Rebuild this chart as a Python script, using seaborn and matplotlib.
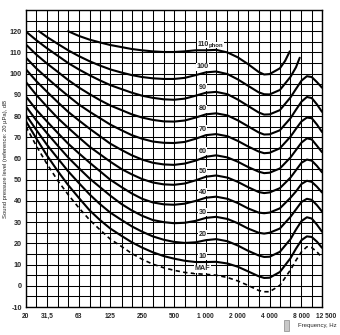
import numpy as np
import pandas as pd
import matplotlib
matplotlib.use("Agg")
import matplotlib.pyplot as plt
import seaborn as sns
from matplotlib.patches import Rectangle

# ---- data ----
freq = [20, 25, 31.5, 40, 50, 63, 80, 100, 125, 160, 200, 250, 315, 400, 500,
        630, 800, 1000, 1250, 1600, 2000, 2500, 3150, 3550, 4000, 5000, 6300,
        7100, 8000, 9000, 10000, 11200, 12500]

maf = [75.0, 66.0, 57.5, 49.5, 43.0, 36.8, 31.0, 26.4, 22.0, 18.5, 15.2, 12.5,
       10.2, 8.5, 7.3, 6.3, 5.7, 5.4, 5.0, 3.9, 2.3, 0.2, -2.2, -2.8, -2.8, 0.2,
       7.5, 12.0, 16.0, 18.4, 18.0, 16.0, 13.2]
phon10 = [77.5, 69.5, 61.5, 54.0, 47.5, 41.5, 35.5, 31.0, 27.0, 23.5, 20.5, 18.0,
          15.8, 14.0, 12.8, 11.8, 11.2, 11.2, 11.3, 10.5, 9.0, 6.8, 4.5, 3.7, 3.8,
          6.5, 13.0, 17.5, 21.5, 23.3, 23.0, 20.8, 17.9]
phon20 = [80.5, 73.5, 66.5, 60.0, 54.0, 48.5, 43.0, 38.5, 34.5, 31.0, 28.0, 25.5,
          23.3, 21.7, 20.7, 20.2, 20.5, 21.5, 22.0, 21.0, 19.0, 16.5, 14.3, 13.6,
          13.7, 16.0, 22.0, 26.5, 30.5, 32.3, 31.7, 28.8, 25.5]
phon30 = [84.5, 78.0, 72.0, 66.0, 60.5, 55.5, 50.5, 46.5, 42.5, 38.5, 35.5, 33.0,
          31.0, 30.0, 29.5, 29.7, 30.6, 32.0, 32.5, 31.5, 29.5, 27.0, 25.0, 24.6,
          25.0, 27.0, 32.5, 36.0, 39.5, 41.0, 40.5, 38.0, 35.0]
phon40 = [89.2, 83.0, 77.5, 72.0, 67.0, 62.5, 58.0, 54.0, 50.0, 46.5, 43.5, 41.0,
          39.3, 38.4, 38.2, 38.7, 40.0, 41.5, 42.0, 41.0, 39.0, 36.5, 34.5, 34.2,
          34.5, 36.5, 41.5, 44.5, 48.0, 49.5, 49.0, 46.7, 44.0]
phon50 = [96.0, 90.0, 84.5, 79.0, 74.5, 70.0, 65.5, 62.0, 58.5, 55.0, 52.5, 50.3,
          48.7, 47.8, 47.6, 48.2, 49.7, 51.4, 52.0, 51.0, 49.0, 46.5, 44.2, 43.7,
          44.0, 46.0, 51.0, 54.5, 58.0, 59.5, 59.0, 56.5, 53.5]
phon60 = [102.0, 96.5, 91.5, 86.5, 82.0, 78.0, 74.0, 70.5, 67.0, 64.0, 61.5, 59.5,
          58.0, 57.2, 57.0, 57.6, 59.0, 60.8, 61.5, 60.5, 58.5, 56.0, 53.8, 53.1,
          53.3, 55.3, 60.5, 64.0, 67.5, 69.5, 69.0, 66.0, 63.0]
phon70 = [107.5, 102.5, 98.0, 93.5, 89.5, 85.5, 82.0, 79.0, 76.0, 73.3, 71.0, 69.3,
          68.0, 67.4, 67.3, 67.8, 69.3, 71.0, 71.5, 70.5, 68.3, 65.7, 63.3, 62.5,
          62.7, 64.8, 70.3, 74.0, 77.5, 79.3, 79.0, 76.0, 72.5]
phon80 = [113.7, 109.0, 104.8, 100.8, 97.0, 93.5, 90.3, 87.5, 85.0, 82.8, 80.8,
          79.3, 78.2, 77.5, 77.4, 77.9, 79.3, 80.8, 81.3, 80.3, 78.0, 75.2, 72.3,
          71.3, 71.4, 73.3, 79.0, 83.0, 86.8, 89.0, 88.5, 85.5, 82.0]
phon90 = [119.8, 115.8, 112.0, 108.4, 105.0, 102.0, 99.2, 96.8, 94.6, 92.7, 91.0,
          89.6, 88.6, 87.9, 87.7, 88.2, 89.6, 91.0, 91.4, 90.3, 87.8, 84.8, 81.7,
          80.7, 80.8, 82.8, 88.8, 92.8, 96.7, 98.8, 98.4, 96.0, 93.4]

freq100 = [26.5, 31.5, 40, 50, 63, 80, 100, 125, 160, 200, 250, 315, 400, 500,
           630, 800, 1000, 1250, 1600, 2000, 2500, 3150, 3550, 4000, 5000, 6300,
           7100, 7700]
phon100 = [120.0, 117.3, 114.0, 111.0, 108.3, 105.8, 103.8, 102.0, 100.5, 99.3,
           98.4, 97.8, 97.5, 97.5, 98.0, 99.3, 100.6, 101.0, 99.8, 97.3, 94.3,
           91.2, 90.3, 90.2, 92.3, 98.5, 103.0, 107.5]

freq110 = [50, 63, 80, 100, 125, 160, 200, 250, 315, 400, 500, 630, 800, 1000,
           1250, 1600, 2000, 2500, 3150, 3550, 4000, 5000, 5600, 6200]
phon110 = [120.0, 117.8, 116.0, 114.7, 113.5, 112.5, 111.6, 111.0, 110.5, 110.2,
           110.2, 110.5, 111.0, 111.0, 111.2, 110.0, 107.7, 104.5, 100.8, 99.6,
           99.8, 102.5, 106.0, 110.5]

curve_names = ["10", "20", "30", "40", "50", "60", "70", "80", "90", "100", "110 phon"]
curve_freqs = [freq] * 9 + [freq100, freq110]
curve_values = [phon10, phon20, phon30, phon40, phon50, phon60, phon70, phon80,
                phon90, phon100, phon110]

third_octave = [20, 25, 31.5, 40, 50, 63, 80, 100, 125, 160, 200, 250, 315, 400,
                500, 630, 800, 1000, 1250, 1600, 2000, 2500, 3150, 4000, 5000,
                6300, 8000, 10000, 12500]
xtick_labels = {20: "20", 31.5: "31,5", 63: "63", 125: "125", 250: "250",
                500: "500", 1000: "1 000", 2000: "2 000", 4000: "4 000",
                8000: "8 000", 12500: "12 500"}
ytick_values = list(range(-10, 131, 5))
ylabel_values = list(range(-10, 121, 10))

# ---- build long table ----
rows = []
for name, fr, vals in zip(curve_names, curve_freqs, curve_values):
    for f, v in zip(fr, vals):
        rows.append({"curve": name, "freq": f, "spl": v})
df = pd.DataFrame(rows)
df_maf = pd.DataFrame({"freq": freq, "spl": maf})

# ---- plot ----
sns.set_style("white")
plt.rcParams["font.family"] = ["Liberation Sans", "DejaVu Sans"]

fig = plt.figure(figsize=(3.4, 3.35), dpi=100)
ax = fig.add_axes([26 / 340, 1 - 307 / 335, (322 - 26) / 340, (307 - 10) / 335])

ax.set_xscale("log")
ax.set_xlim(20, 12500)
ax.set_ylim(-10, 130)

ax.set_xticks(third_octave)
ax.set_xticklabels([xtick_labels.get(f, "") for f in third_octave])
ax.xaxis.set_minor_locator(matplotlib.ticker.NullLocator())
ax.set_yticks(ytick_values)
ax.set_yticklabels([(str(v) if v in ylabel_values else "") for v in ytick_values])
ax.tick_params(axis="y", length=0, labelsize=5.2, pad=3)
ax.tick_params(axis="x", length=0, labelsize=4.8, pad=4)
for lbl in ax.get_yticklabels():
    lbl.set_fontweight("bold")
offset = matplotlib.transforms.ScaledTranslation(-6 / 100, 0, fig.dpi_scale_trans)
for lbl in ax.get_xticklabels():
    lbl.set_fontweight("bold")
    if lbl.get_text() == "12 500":
        lbl.set_horizontalalignment("left")
        lbl.set_transform(lbl.get_transform() + offset)

ax.grid(True, which="major", color="black", linewidth=0.75)
ax.set_axisbelow(True)
for sp in ax.spines.values():
    sp.set_color("black")
    sp.set_linewidth(1.0)

sns.lineplot(data=df, x="freq", y="spl", units="curve", estimator=None,
             color="black", linewidth=1.5, sort=False, ax=ax, legend=False)
sns.lineplot(data=df_maf, x="freq", y="spl", color="black", linewidth=1.2,
             linestyle=(0, (2.6, 2.0)), sort=False, ax=ax, legend=False)

# curve labels sitting just above each curve near 1 kHz
box = dict(facecolor="white", edgecolor="none", pad=0.4)
label_x = 930
for name, fr, vals in zip(curve_names, curve_freqs, curve_values):
    v1k = vals[list(fr).index(1000)]
    if name == "110 phon":
        ax.text(840, v1k + 1.3, "110", fontsize=5, fontweight="bold", ha="left",
                va="bottom", bbox=box, zorder=5)
        ax.text(1070, v1k + 1.3, "phon", fontsize=4.3, fontweight="bold",
                ha="left", va="bottom", bbox=box, zorder=5)
    else:
        ax.text(label_x, v1k + 1.0, name, fontsize=5.2, fontweight="bold",
                ha="center", va="bottom", bbox=box, zorder=5)
ax.text(label_x, maf[freq.index(1000)] + 1.0, "MAF", fontsize=5.2,
        fontweight="bold", ha="center", va="bottom", bbox=box, zorder=5)

ax.set_xlabel("")
ax.set_ylabel("Sound pressure level (reference: 20 µPa), dB", fontsize=4.2)
ax.yaxis.set_label_coords(-0.062, 0.5)

fig.text(298 / 340, 1 - 325 / 335, "Frequency, Hz", fontsize=4.3,
         ha="left", va="center")
fig.add_artist(Rectangle((284 / 340, 1 - 331 / 335), 5 / 340, 11 / 335,
                         transform=fig.transFigure, facecolor="#c8c8c8",
                         edgecolor="#888888", linewidth=0.5))

fig.savefig("out.png", dpi=100)
